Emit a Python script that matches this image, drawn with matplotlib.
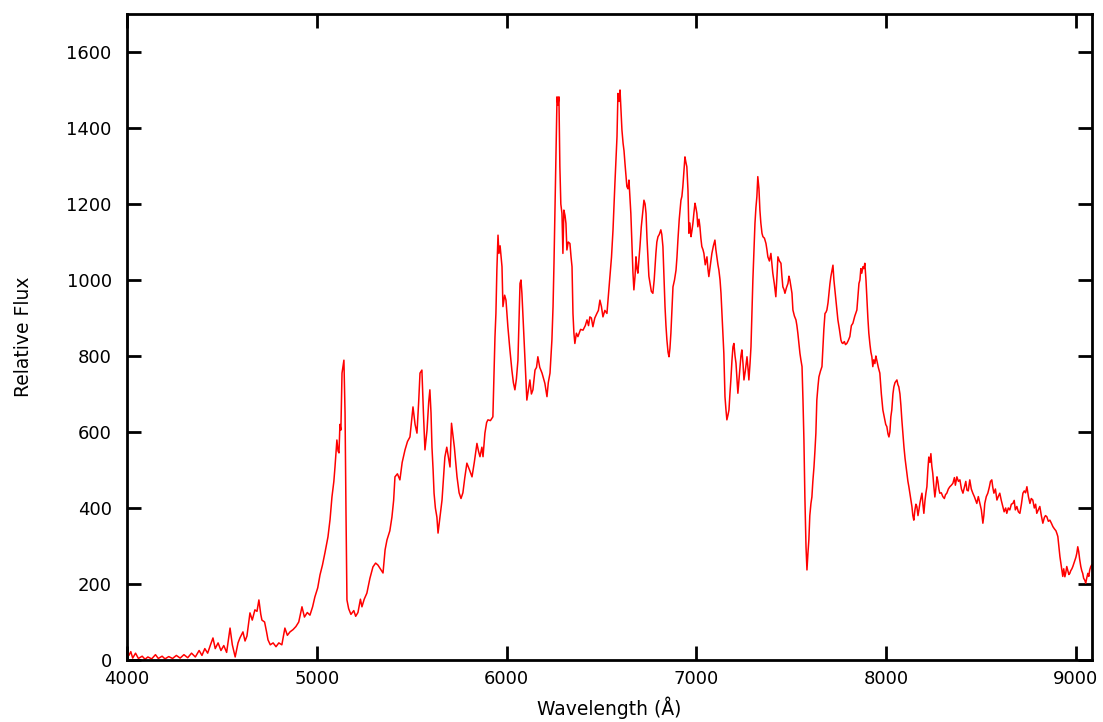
import matplotlib
matplotlib.use("Agg")
import matplotlib.pyplot as plt

# Spectrum (wavelength in Angstrom, relative flux)
wavelength = [
    4000, 4010, 4020, 4030, 4045, 4060, 4080, 4095, 4110, 4130, 4150, 4165, 4185, 4200,
    4220, 4240, 4260, 4280, 4300, 4320, 4340, 4360, 4380, 4395, 4410, 4425, 4440, 4453,
    4465, 4480, 4495, 4510, 4525, 4543, 4555, 4570, 4585, 4595, 4611, 4622, 4632, 4648,
    4660, 4674, 4685, 4695, 4705, 4711, 4725, 4735, 4743, 4755, 4770, 4785, 4800, 4816,
    4832, 4845, 4859, 4875, 4890, 4905, 4922, 4935, 4950, 4964, 4978, 4990, 5005, 5017,
    5030, 5043, 5059, 5070, 5080, 5090, 5096, 5106, 5112, 5117, 5122, 5127, 5133, 5143,
    5149, 5154, 5159, 5168, 5180, 5195, 5205, 5217, 5230, 5238, 5250, 5264, 5280, 5296,
    5310, 5322, 5335, 5349, 5360, 5370, 5385, 5396, 5405, 5412, 5425, 5438, 5450, 5465,
    5478, 5491, 5500, 5507, 5518, 5528, 5537, 5544, 5554, 5562, 5570, 5581, 5590, 5596,
    5602, 5607, 5613, 5618, 5625, 5633, 5639, 5650, 5660, 5668, 5675, 5685, 5695, 5702,
    5710, 5718, 5725, 5739, 5750, 5760, 5770, 5780, 5791, 5805, 5818, 5830, 5844, 5852,
    5860, 5870, 5876, 5886, 5895, 5902, 5915, 5928, 5934, 5939, 5944, 5949, 5955, 5960,
    5966, 5976, 5981, 5990, 5997, 6007, 6017, 6028, 6036, 6044, 6052, 6060, 6066, 6071,
    6076, 6081, 6087, 6092, 6100, 6107, 6115, 6123, 6131, 6139, 6150, 6158, 6165, 6175,
    6187, 6195, 6202, 6213, 6220, 6229, 6239, 6245, 6250, 6255, 6260, 6266, 6271, 6276,
    6281, 6286, 6292, 6297, 6302, 6308, 6313, 6318, 6325, 6334, 6340, 6345, 6350, 6355,
    6360, 6368, 6376, 6390, 6403, 6415, 6424, 6432, 6439, 6447, 6455, 6465, 6476, 6484,
    6492, 6500, 6508, 6518, 6529, 6539, 6545, 6553, 6561, 6571, 6582, 6587, 6593, 6598,
    6603, 6608, 6614, 6619, 6624, 6634, 6640, 6645, 6650, 6655, 6661, 6666, 6671, 6677,
    6682, 6687, 6692, 6697, 6703, 6710, 6719, 6724, 6730, 6735, 6740, 6745, 6750, 6756,
    6763, 6771, 6778, 6787, 6792, 6798, 6805, 6813, 6818, 6824, 6830, 6835, 6840, 6845,
    6851, 6856, 6861, 6866, 6872, 6877, 6885, 6893, 6898, 6903, 6910, 6919, 6924, 6929,
    6935, 6940, 6945, 6950, 6956, 6961, 6966, 6972, 6977, 6982, 6988, 6993, 6998, 7003,
    7008, 7014, 7019, 7024, 7029, 7035, 7040, 7047, 7056, 7061, 7066, 7074, 7082, 7090,
    7098, 7103, 7108, 7114, 7119, 7125, 7130, 7135, 7140, 7145, 7151, 7156, 7161, 7167,
    7172, 7177, 7182, 7188, 7193, 7198, 7204, 7209, 7214, 7219, 7225, 7230, 7235, 7240,
    7246, 7251, 7258, 7267, 7272, 7277, 7283, 7288, 7293, 7298, 7304, 7309, 7314, 7319,
    7324, 7330, 7335, 7340, 7346, 7351, 7359, 7367, 7372, 7377, 7385, 7393, 7398, 7403,
    7411, 7419, 7425, 7430, 7438, 7446, 7451, 7456, 7462, 7467, 7475, 7483, 7488, 7493,
    7499, 7504, 7509, 7517, 7525, 7530, 7535, 7541, 7546, 7551, 7557, 7562, 7567, 7572,
    7578, 7583, 7588, 7593, 7598, 7604, 7609, 7614, 7620, 7625, 7630, 7635, 7641, 7646,
    7654, 7662, 7667, 7672, 7678, 7683, 7688, 7694, 7699, 7704, 7709, 7715, 7720, 7725,
    7730, 7736, 7741, 7746, 7754, 7762, 7767, 7772, 7780, 7786, 7793, 7800, 7809, 7817,
    7825, 7835, 7846, 7852, 7857, 7862, 7867, 7872, 7878, 7883, 7888, 7894, 7899, 7904,
    7909, 7915, 7920, 7925, 7930, 7935, 7941, 7946, 7951, 7959, 7967, 7975, 7983, 7990,
    7998, 8004, 8010, 8015, 8020, 8025, 8030, 8036, 8041, 8047, 8057, 8062, 8067, 8073,
    8078, 8083, 8088, 8094, 8100, 8110, 8115, 8120, 8128, 8136, 8141, 8146, 8152, 8157,
    8162, 8168, 8173, 8178, 8183, 8189, 8194, 8199, 8205, 8210, 8215, 8220, 8225, 8231,
    8236, 8241, 8246, 8251, 8257, 8262, 8268, 8273, 8278, 8283, 8291, 8299, 8307, 8313,
    8320, 8328, 8336, 8344, 8352, 8360, 8365, 8373, 8381, 8389, 8397, 8405, 8413, 8420,
    8426, 8433, 8441, 8449, 8457, 8465, 8472, 8478, 8486, 8494, 8502, 8510, 8515, 8520,
    8528, 8536, 8544, 8550, 8557, 8562, 8568, 8576, 8584, 8591, 8599, 8607, 8615, 8622,
    8630, 8636, 8644, 8652, 8660, 8668, 8675, 8681, 8689, 8697, 8705, 8713, 8721, 8728,
    8735, 8742, 8750, 8758, 8765, 8773, 8781, 8788, 8794, 8802, 8810, 8818, 8826, 8834,
    8840, 8847, 8855, 8863, 8871, 8879, 8887, 8895, 8900, 8905, 8910, 8916, 8921, 8926,
    8931, 8936, 8942, 8947, 8952, 8958, 8963, 8968, 8973, 8979, 8984, 8990, 8995, 9000,
    9005, 9010, 9015, 9020, 9026, 9031, 9036, 9041, 9047, 9052, 9057, 9063, 9068, 9073,
    9078, 9083,
]

flux = [
    25, 12, 22, 5, 18, 4, 10, 2, 8, 3, 14, 4, 10, 3,
    9, 4, 12, 5, 14, 6, 18, 8, 25, 12, 30, 18, 40, 58,
    30, 45, 25, 38, 20, 84, 40, 8, 45, 58, 74, 50, 63, 124,
    105, 132, 128, 158, 120, 105, 100, 75, 53, 40, 45, 35, 45, 40,
    84, 65, 74, 80, 88, 100, 140, 113, 125, 118, 140, 166, 190, 224,
    250, 282, 324, 370, 429, 470, 508, 579, 550, 545, 620, 605, 755, 789,
    650, 387, 158, 135, 120, 130, 115, 125, 160, 140, 160, 176, 215, 245,
    255, 250, 240, 229, 290, 316, 340, 376, 420, 482, 490, 474, 520, 553,
    575, 587, 630, 666, 620, 597, 680, 755, 763, 650, 553, 605, 680, 711,
    650, 560, 500, 439, 400, 376, 334, 380, 421, 480, 534, 560, 530, 508,
    623, 590, 560, 482, 440, 425, 440, 480, 518, 500, 482, 520, 570, 550,
    535, 560, 535, 597, 625, 632, 630, 640, 755, 850, 912, 1026, 1118, 1070,
    1090, 1035, 930, 960, 947, 877, 820, 763, 730, 711, 740, 789, 900, 991,
    1000, 965, 900, 842, 760, 684, 710, 737, 700, 711, 763, 770, 798, 770,
    755, 740, 728, 693, 730, 755, 842, 930, 1044, 1180, 1307, 1482, 1460, 1482,
    1298, 1200, 1175, 1070, 1184, 1170, 1149, 1079, 1100, 1096, 1060, 1035, 912, 860,
    833, 860, 851, 870, 868, 880, 895, 880, 903, 900, 877, 900, 912, 920,
    947, 930, 903, 920, 912, 974, 1010, 1060, 1132, 1254, 1377, 1491, 1470, 1500,
    1450, 1395, 1360, 1340, 1307, 1246, 1240, 1263, 1220, 1175, 1088, 1020, 974, 1010,
    1061, 1030, 1018, 1050, 1088, 1140, 1184, 1210, 1200, 1175, 1110, 1061, 1010, 991,
    970, 965, 1000, 1070, 1100, 1114, 1120, 1132, 1120, 1088, 1000, 930, 880, 842,
    810, 798, 820, 860, 930, 982, 1000, 1026, 1060, 1105, 1160, 1210, 1220, 1246,
    1290, 1324, 1310, 1298, 1237, 1123, 1150, 1114, 1130, 1149, 1180, 1202, 1190, 1175,
    1140, 1160, 1140, 1110, 1088, 1080, 1070, 1040, 1061, 1030, 1009, 1040, 1070, 1090,
    1105, 1080, 1061, 1040, 1026, 1000, 965, 912, 860, 807, 693, 660, 632, 645,
    658, 700, 737, 790, 824, 833, 800, 781, 740, 702, 740, 772, 800, 816,
    780, 737, 760, 798, 770, 737, 780, 824, 912, 1000, 1080, 1149, 1190, 1219,
    1272, 1240, 1184, 1150, 1123, 1114, 1110, 1096, 1080, 1061, 1050, 1070, 1045, 1018,
    990, 956, 1010, 1061, 1050, 1044, 1010, 982, 975, 965, 980, 991, 1010, 1000,
    980, 965, 921, 905, 895, 880, 860, 830, 807, 790, 772, 684, 579, 429,
    298, 237, 280, 316, 380, 412, 429, 470, 508, 550, 597, 684, 720, 745,
    760, 772, 824, 870, 912, 915, 921, 940, 965, 990, 1009, 1025, 1039, 1000,
    975, 947, 920, 895, 870, 842, 835, 833, 838, 830, 833, 840, 851, 880,
    886, 905, 921, 960, 991, 1000, 1030, 1018, 1035, 1030, 1044, 1000, 947, 900,
    860, 830, 810, 798, 772, 790, 780, 800, 789, 770, 755, 700, 658, 640,
    620, 614, 595, 587, 600, 640, 658, 700, 719, 730, 737, 725, 719, 700,
    670, 632, 600, 561, 530, 491, 470, 456, 430, 404, 380, 368, 395, 410,
    404, 380, 395, 412, 425, 439, 410, 386, 420, 440, 456, 500, 534, 520,
    543, 510, 491, 460, 429, 450, 482, 470, 450, 439, 440, 430, 425, 435,
    439, 450, 456, 460, 465, 480, 460, 482, 470, 474, 450, 439, 455, 470,
    447, 445, 474, 450, 439, 430, 420, 412, 430, 412, 395, 360, 380, 412,
    430, 439, 455, 470, 474, 455, 439, 450, 421, 430, 439, 420, 404, 390,
    400, 386, 400, 395, 410, 412, 420, 395, 404, 390, 386, 410, 439, 445,
    440, 456, 430, 412, 425, 421, 400, 410, 386, 395, 404, 380, 360, 375,
    380, 377, 365, 368, 360, 351, 345, 340, 333, 325, 300, 272, 255, 237,
    220, 240, 219, 230, 246, 235, 225, 228, 235, 240, 246, 255, 262, 270,
    281, 298, 285, 265, 246, 235, 228, 215, 210, 202, 215, 228, 220, 237,
    245, 250,
]

x_ticks = [4000, 5000, 6000, 7000, 8000, 9000]
y_ticks = [0, 200, 400, 600, 800, 1000, 1200, 1400, 1600]

plt.rcParams.update({
    "font.family": ["DejaVu Sans"],
    "font.size": 13,
})

fig = plt.figure(figsize=(11.03, 7.22), dpi=100)
ax = fig.add_axes([127 / 1103, 62 / 722, 965 / 1103, 646 / 722])

ax.plot(wavelength, flux, color="#ff0000", linewidth=1.1)

ax.set_xlim(4000, 9085)
ax.set_ylim(0, 1700)
ax.set_xticks(x_ticks)
ax.set_yticks(y_ticks)
ax.tick_params(direction="in", length=10, width=2, top=True, right=True,
               labelsize=13, colors="black")
ax.tick_params(axis="x", pad=7)
ax.tick_params(axis="y", pad=11)
for side in ax.spines.values():
    side.set_linewidth(2)

ax.set_xlabel("Wavelength (Å)", fontsize=13.5, labelpad=6)
ax.set_ylabel("Relative Flux", fontsize=13.5, labelpad=24)

fig.savefig("out.png", dpi=100)
